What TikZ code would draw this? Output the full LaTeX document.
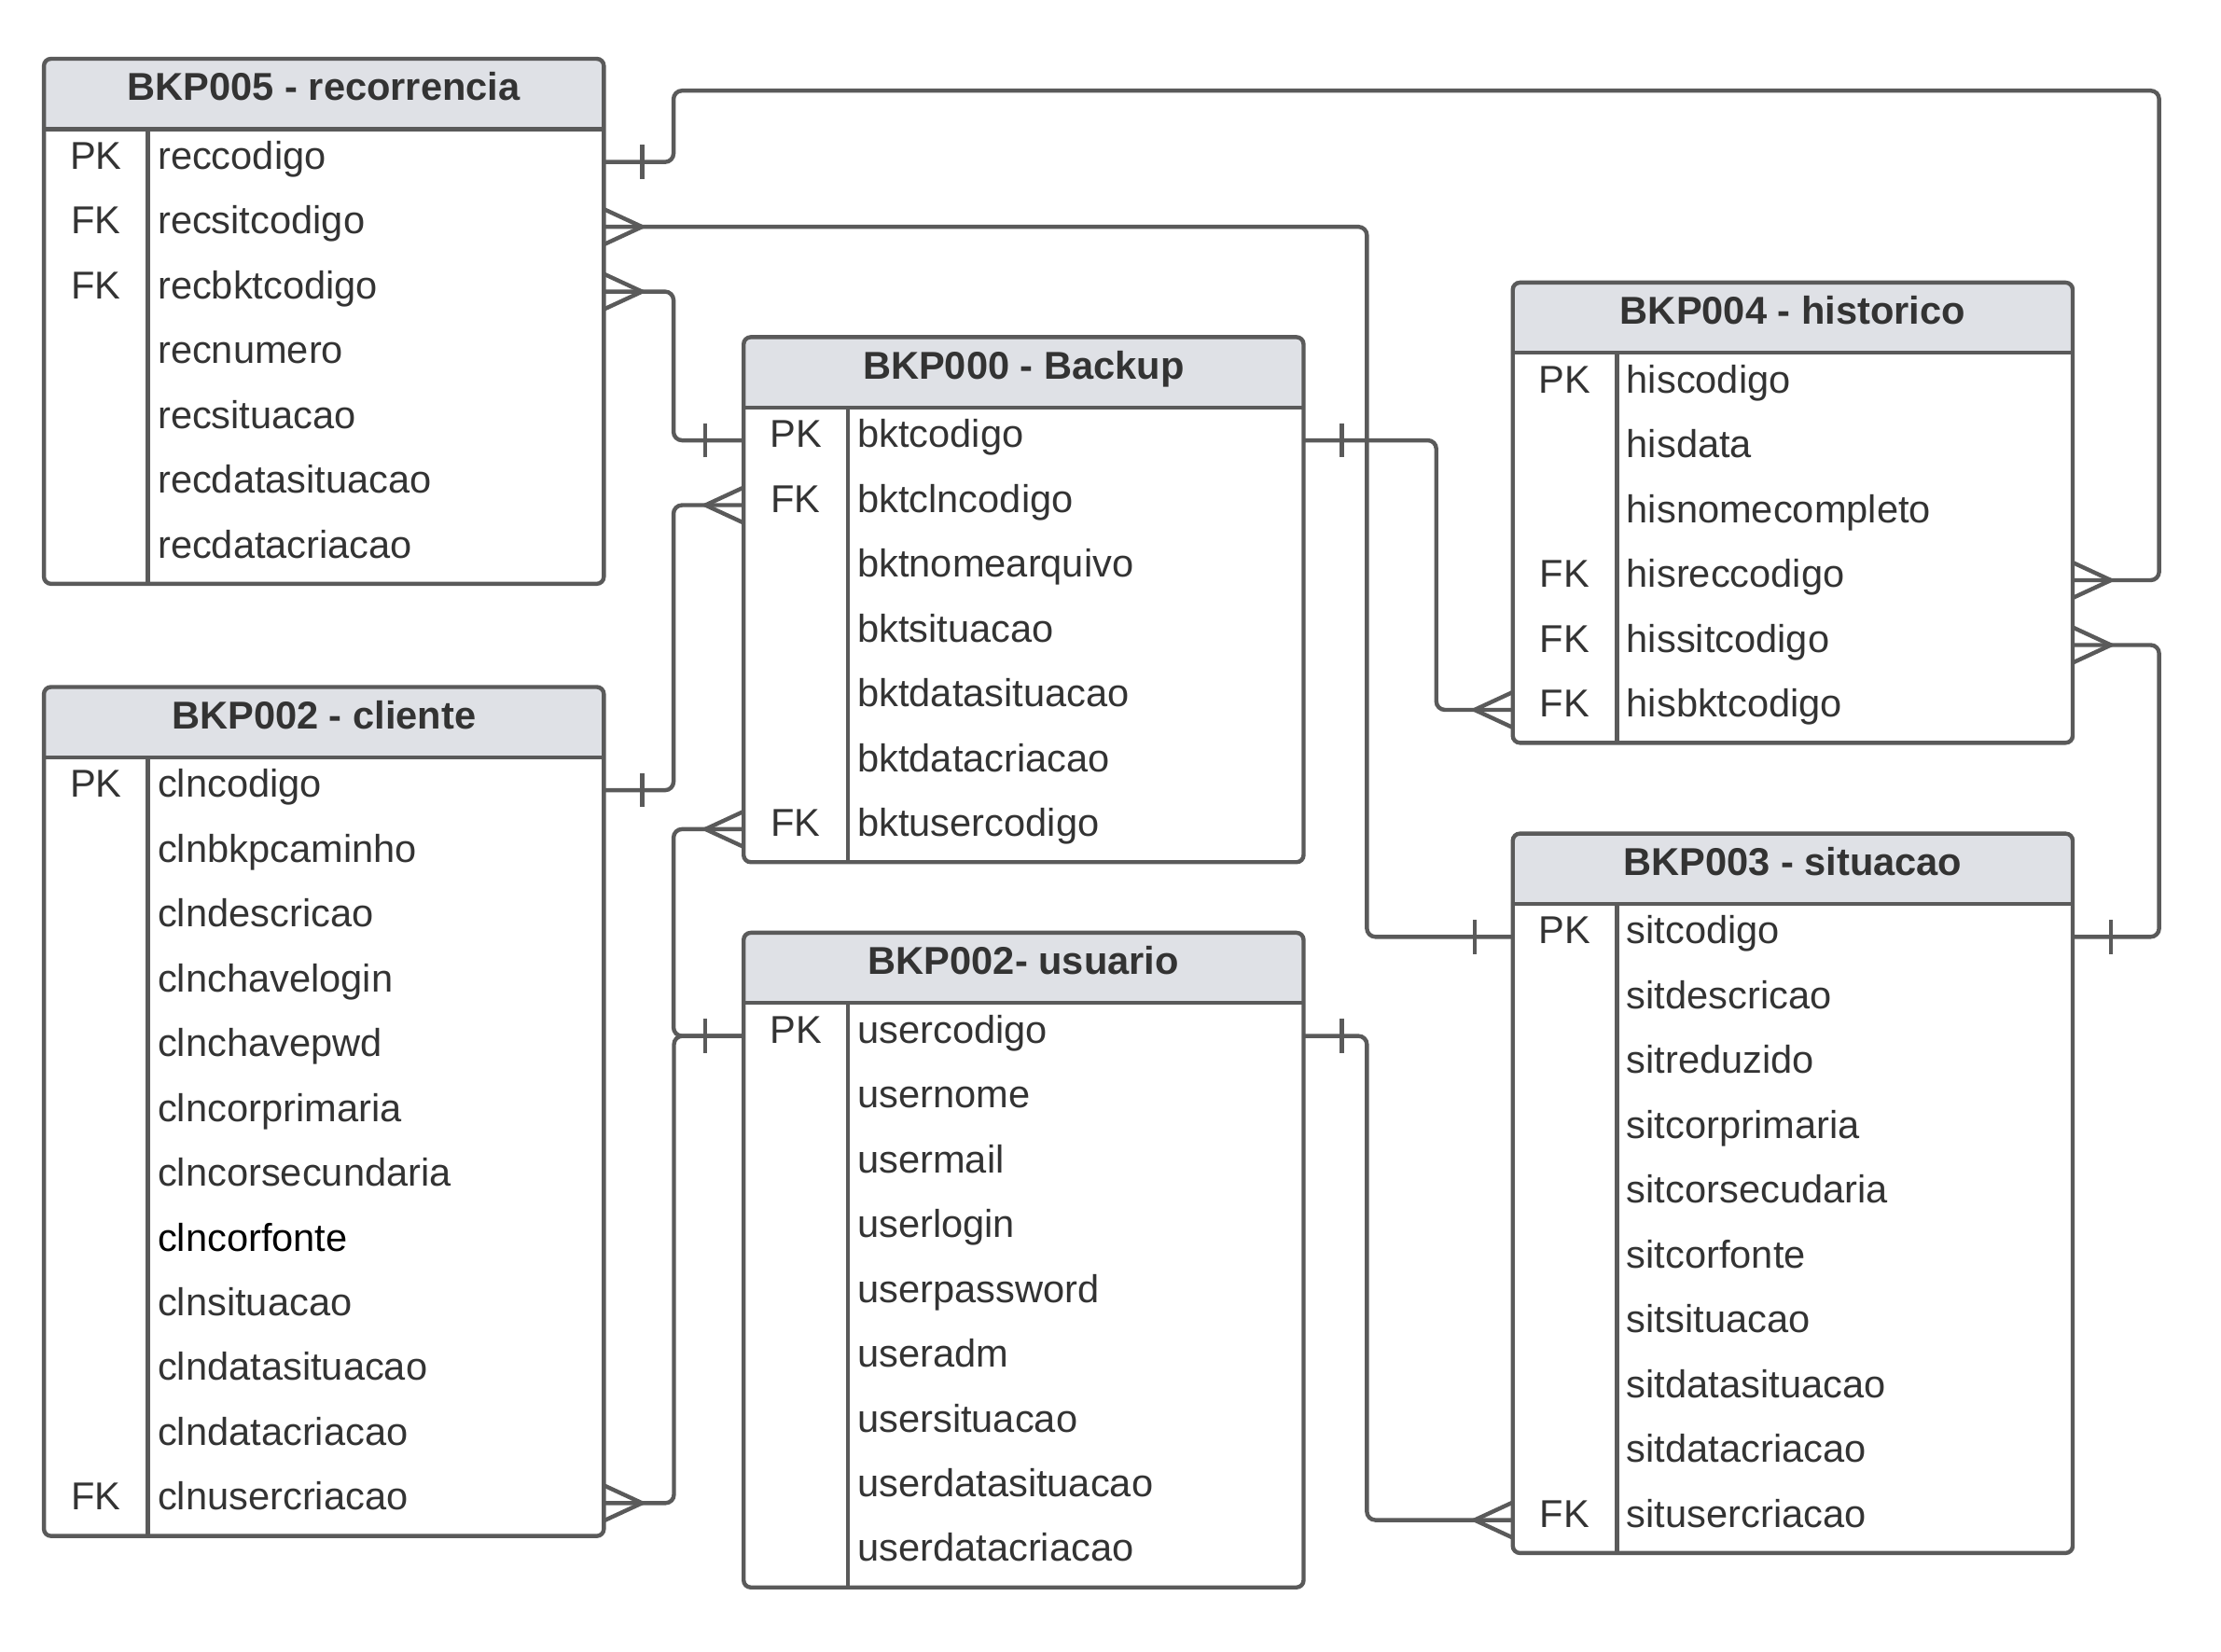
\documentclass[tikz,border=0pt]{standalone}
\usepackage{fontspec}
\setmainfont{Liberation Sans}
\usepackage{tikz}
\usetikzlibrary{backgrounds,calc}
\definecolor{linegray}{HTML}{5A5A5A}
\definecolor{headgray}{HTML}{DFE1E6}
\definecolor{txtgray}{HTML}{333333}
\newlength{\rowh}\setlength{\rowh}{22.875pt}
\newlength{\keyw}\setlength{\keyw}{36.75pt}
\newcommand{\erfont}{\fontsize{13.7pt}{16pt}\selectfont}
\tikzset{
  tblhead/.style={rectangle, anchor=north west, minimum width=197.25pt, minimum height=24.4pt,
    inner sep=0pt, text height=9.4pt, text depth=4.6pt, font=\erfont\bfseries, text=txtgray},
  tblrow/.style={rectangle, anchor=north west, minimum width=197.25pt, minimum height=\rowh, inner sep=0pt},
  keytxt/.style={anchor=base, inner sep=0pt, font=\erfont, text=txtgray},
  fldtxt/.style={anchor=base west, inner sep=0pt, font=\erfont, text=txtgray},
  tblline/.style={draw=linegray, line width=1.45pt},
  rel/.style={draw=linegray, line width=1.45pt, rounded corners=3pt},
  one/.pic={\draw[linegray, line width=1.45pt] (13.5pt,6pt) -- (13.5pt,-6pt);},
  many/.pic={\draw[linegray, line width=1.45pt] (0pt,6.25pt) -- (13.5pt,0pt) -- (0pt,-6.25pt);},
}
% table: name, top left, title, number of rows, key/field list
\newcommand{\ertable}[5]{%
  \node[tblhead] (#1) at (#2) {#3};
  \begin{scope}[on background layer]
    \fill[headgray, rounded corners=2.5pt] (#1.north west) rectangle (#1.south east);
    \fill[headgray] (#1.west) rectangle (#1.south east);
  \end{scope}
  \foreach \ky/\fd [count=\i] in {#5} {
    \node[tblrow] (#1\i) at ([yshift={-(\i-1)*\rowh}]#1.south west) {};
    \node[keytxt] (#1\i-k) at ([xshift=\keyw/2, yshift=-2.5pt]#1\i.west) {\ky};
    \node[fldtxt] (#1\i-f) at ([xshift=\keyw+3.25pt, yshift=-2.5pt]#1\i.west) {\fd};
  }
  \draw[tblline, rounded corners=2.5pt] (#1.north west) rectangle (#1#4.south east);
  \draw[tblline] (#1.south west) -- (#1.south east);
  \draw[tblline] ([xshift=\keyw]#1.south west) -- ([xshift=\keyw]#1#4.south west);
}

\begin{document}
\begin{tikzpicture}[x=0.5pt, y=-0.5pt]
  \begin{scope}[on background layer]
    \fill[white] (0,0) rectangle (1568,1166);
  \end{scope}
  \useasboundingbox (0,0) rectangle (1568,1166);

  \ertable{rec}{31,41.5}{BKP005 - recorrencia}{7}{PK/reccodigo, FK/recsitcodigo, FK/recbktcodigo,
    {}/recnumero, {}/recsituacao, {}/recdatasituacao, {}/recdatacriacao}
  \ertable{bkt}{525,238}{BKP000 - Backup}{7}{PK/bktcodigo, FK/bktclncodigo, {}/bktnomearquivo,
    {}/bktsituacao, {}/bktdatasituacao, {}/bktdatacriacao, FK/bktusercodigo}
  \ertable{his}{1068,199.5}{BKP004 - historico}{6}{PK/hiscodigo, {}/hisdata, {}/hisnomecompleto,
    FK/hisreccodigo, FK/hissitcodigo, FK/hisbktcodigo}
  \ertable{sit}{1068,588.5}{BKP003 - situacao}{10}{PK/sitcodigo, {}/sitdescricao, {}/sitreduzido,
    {}/sitcorprimaria, {}/sitcorsecudaria, {}/sitcorfonte, {}/sitsituacao, {}/sitdatasituacao,
    {}/sitdatacriacao, FK/situsercriacao}
  \ertable{cln}{31,485}{BKP002 - cliente}{12}{PK/clncodigo, {}/clnbkpcaminho, {}/clndescricao,
    {}/clnchavelogin, {}/clnchavepwd, {}/clncorprimaria, {}/clncorsecundaria,
    {}/\textcolor{black}{clncorfonte}, {}/clnsituacao, {}/clndatasituacao, {}/clndatacriacao,
    FK/clnusercriacao}
  \ertable{usr}{525,658.5}{BKP002- usuario}{9}{PK/usercodigo, {}/usernome, {}/usermail,
    {}/userlogin, {}/userpassword, {}/useradm, {}/usersituacao, {}/userdatasituacao,
    {}/userdatacriacao}

  \draw[rel] (rec1.east) -| (475.5,64) -| ([xshift=30.5pt]his4.east) -- (his4.east);
  \draw[rel] (rec2.east) -| ([xshift=-51.5pt]sit1.west) -- (sit1.west);
  \draw[rel] (rec3.east) -| ([xshift=-24.75pt]bkt1.west) -- (bkt1.west);
  \draw[rel] (bkt1.east) -| ([xshift=-27pt]his6.west) -- (his6.west);
  \draw[rel] (cln1.east) -| ([xshift=-24.75pt]bkt2.west) -- (bkt2.west);
  \draw[rel] (usr1.west) -| ([xshift=-24.75pt]bkt7.west) -- (bkt7.west);
  \draw[rel] (usr1.west) -| ([xshift=24.75pt]cln12.east) -- (cln12.east);
  \draw[rel] (usr1.east) -| ([xshift=-51.5pt]sit10.west) -- (sit10.west);
  \draw[rel] (sit1.east) -| ([xshift=30.5pt]his5.east) -- (his5.east);

  \pic at (rec1.east) {one};
  \pic at (his4.east) {many};
  \pic at (rec2.east) {many};
  \pic[rotate=180] at (sit1.west) {one};
  \pic at (rec3.east) {many};
  \pic[rotate=180] at (bkt1.west) {one};
  \pic at (bkt1.east) {one};
  \pic[rotate=180] at (his6.west) {many};
  \pic at (cln1.east) {one};
  \pic[rotate=180] at (bkt2.west) {many};
  \pic[rotate=180] at (usr1.west) {one};
  \pic[rotate=180] at (bkt7.west) {many};
  \pic at (cln12.east) {many};
  \pic at (usr1.east) {one};
  \pic[rotate=180] at (sit10.west) {many};
  \pic at (sit1.east) {one};
  \pic at (his5.east) {many};
\end{tikzpicture}
\end{document}
